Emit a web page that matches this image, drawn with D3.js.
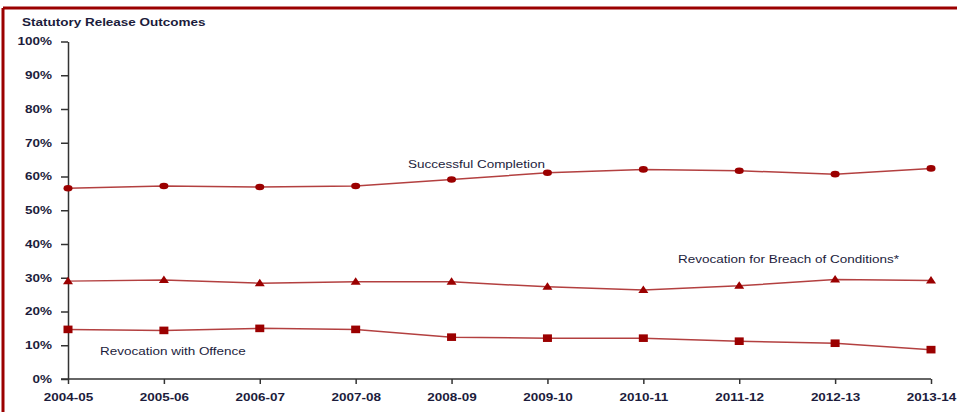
<!DOCTYPE html>
<html><head><meta charset="utf-8">
<script src="https://cdn.jsdelivr.net/npm/d3@7"></script>
<style>
html,body{margin:0;padding:0;background:#fff;}
text{font-family:"Liberation Sans",Arial,sans-serif;}
</style></head>
<body><svg id="c" width="957" height="412"></svg>
<script>
const categories = ["2004-05","2005-06","2006-07","2007-08","2008-09","2009-10","2010-11","2011-12","2012-13","2013-14"];
const successfulCompletion = [56.5,57.2,56.9,57.2,59.1,61.1,62.1,61.7,60.7,62.4];
const revocationBreach = [29.0,29.3,28.4,28.8,28.8,27.3,26.4,27.6,29.5,29.2];
const revocationOffence = [14.7,14.4,15.0,14.7,12.4,12.1,12.1,11.2,10.6,8.7];
const yTicks = [0,10,20,30,40,50,60,70,80,90,100];
const title = "Statutory Release Outcomes";
const labels = ["Successful Completion","Revocation for Breach of Conditions*","Revocation with Offence"];

const svg = d3.select("#c");
const SX = 1.35;
const textCol = "#1c1c3c";
const red = "#9b0000";
const lineCol = "#b34040";

// frame
svg.append("line").attr("x1",3).attr("x2",957).attr("y1",8).attr("y2",8).attr("stroke",red).attr("stroke-width",3);
svg.append("line").attr("x1",3).attr("x2",3).attr("y1",8).attr("y2",412).attr("stroke",red).attr("stroke-width",3);

const x = d3.scalePoint().domain(categories).range([68,931]);
const y = d3.scaleLinear().domain([0,100]).range([379,41.5]);

function stretch(sel, tx, ty){ sel.attr("transform",`translate(${tx},${ty}) scale(${SX},1)`); }

svg.append("text").text(title).attr("font-size",10).attr("font-weight","bold").attr("fill",textCol)
  .call(s=>stretch(s,22,26));

// y axis
const ya = svg.append("g").attr("transform","translate(68,0)")
  .call(d3.axisLeft(y).tickValues(yTicks).tickFormat(d=>d+"%").tickSize(7).tickSizeOuter(0));
ya.select(".domain").attr("stroke","#333").attr("stroke-width",1.5);
ya.selectAll(".tick line").attr("stroke","#333").attr("stroke-width",1.5);
ya.selectAll(".tick text").attr("x",null).attr("dy",null).attr("font-size",10).attr("font-weight","bold")
  .attr("fill",textCol).attr("text-anchor","end").attr("dominant-baseline","central")
  .attr("transform",`translate(-16,0) scale(${SX},1)`);

// x axis
const xa = svg.append("g").attr("transform","translate(0,379)")
  .call(d3.axisBottom(x).tickSize(5).tickSizeOuter(0));
xa.select(".domain").attr("stroke","#333").attr("stroke-width",1.5).attr("d","M61,0H931");
xa.selectAll(".tick line").attr("stroke","#333").attr("stroke-width",1.5);
xa.selectAll(".tick text").attr("y",null).attr("dy",null).attr("font-size",10).attr("font-weight","bold")
  .attr("fill",textCol).attr("text-anchor","middle")
  .attr("transform",`translate(0,22) scale(${SX},1)`);

const series = [
  {vals:successfulCompletion, shape:"circle"},
  {vals:revocationBreach, shape:"triangle"},
  {vals:revocationOffence, shape:"square"}
];
const line = d3.line().x((d,i)=>x(categories[i])).y(d=>y(d));
series.forEach(s=>{
  svg.append("path").datum(s.vals).attr("d",line).attr("fill","none").attr("stroke",lineCol).attr("stroke-width",1.5);
  const g = svg.append("g");
  s.vals.forEach((v,i)=>{
    const cx = x(categories[i]), cy = y(v);
    if(s.shape==="circle"){
      g.append("ellipse").attr("cx",cx).attr("cy",cy).attr("rx",4.5).attr("ry",3.3).attr("fill",red);
    } else if(s.shape==="square"){
      g.append("rect").attr("x",cx-4.5).attr("y",cy-3.8).attr("width",9).attr("height",7.6).attr("fill",red);
    } else {
      g.append("path").attr("d",`M${cx},${cy-4.5}L${cx+5},${cy+3}L${cx-5},${cy+3}Z`).attr("fill",red);
    }
  });
});

// series labels
svg.append("text").text(labels[0]).attr("font-size",10).attr("fill",textCol).call(s=>stretch(s,408,168));
svg.append("text").text(labels[1]).attr("font-size",10).attr("fill",textCol).call(s=>stretch(s,678,263));
svg.append("text").text(labels[2]).attr("font-size",10).attr("fill",textCol).call(s=>stretch(s,100,355));
</script></body></html>
